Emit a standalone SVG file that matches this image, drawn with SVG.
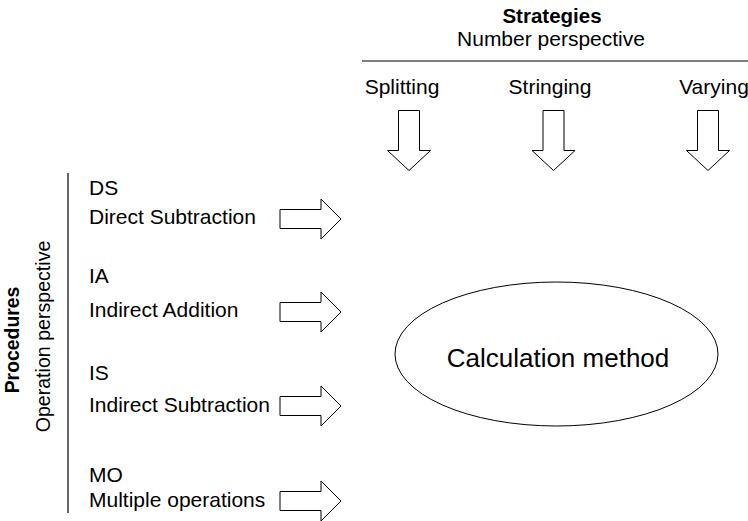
<svg xmlns="http://www.w3.org/2000/svg" width="748" height="521" viewBox="0 0 748 521">
<style>
text{font-family:"Liberation Sans",Arial,sans-serif;fill:#000}
.t{font-size:21px}
.b{font-size:20.5px;font-weight:bold}
.c{text-anchor:middle}
.big{font-size:26px}
.arr{fill:#fff;stroke:#000;stroke-width:1}
.ln{stroke:#000;stroke-width:1.2;fill:none}
</style>
<defs>
<path id="ra" d="M0,-9.5 H41 V-20 L61,0 L41,20 V9.5 H0 Z"/>
<path id="da" d="M-10.5,0 H10.5 V40 H21.5 L0,60 L-21.5,40 H-10.5 Z"/>
</defs>
<g id="header">
<text class="b c" x="552" y="23">Strategies</text>
<text class="t c" x="551" y="46">Number perspective</text>
<line class="ln" x1="362" y1="61" x2="748" y2="61"/>
</g>
<g id="splitting">
<text class="t c" x="402" y="94">Splitting</text>
</g>
<g id="stringing">
<text class="t c" x="550" y="94">Stringing</text>
</g>
<g id="varying">
<text class="t c" x="714" y="94">Varying</text>
</g>
<g id="procedures">
<text class="b c" style="font-size:19.4px" transform="translate(19,340) rotate(-90)">Procedures</text>
<text class="t c" style="font-size:19.6px" transform="translate(50,336.5) rotate(-90)">Operation perspective</text>
<line class="ln" x1="68" y1="173" x2="68" y2="513"/>
</g>
<g id="ds">
<text class="t" x="89" y="195">DS</text>
<text class="t" x="89" y="224">Direct Subtraction</text>
</g>
<g id="ia">
<text class="t" x="89" y="283">IA</text>
<text class="t" x="89" y="317">Indirect Addition</text>
</g>
<g id="is">
<text class="t" x="89" y="380">IS</text>
<text class="t" x="89" y="412">Indirect Subtraction</text>
</g>
<g id="mo">
<text class="t" x="89" y="482">MO</text>
<text class="t" x="89" y="507">Multiple operations</text>
</g>
<g id="calculation-method">
<ellipse cx="556.5" cy="354" rx="161.5" ry="72" fill="#fff" stroke="#000" stroke-width="1"/>
<text class="big c" x="558" y="367">Calculation method</text>
</g>
<g id="connectors">
<use href="#da" class="arr" x="409" y="110.5"/>
<use href="#da" class="arr" x="553.5" y="110.5"/>
<use href="#da" class="arr" x="708" y="110.5"/>
<use href="#ra" class="arr" x="280" y="219"/>
<use href="#ra" class="arr" x="280" y="312"/>
<use href="#ra" class="arr" x="280" y="406"/>
<use href="#ra" class="arr" x="280" y="501"/>
</g>
</svg>
